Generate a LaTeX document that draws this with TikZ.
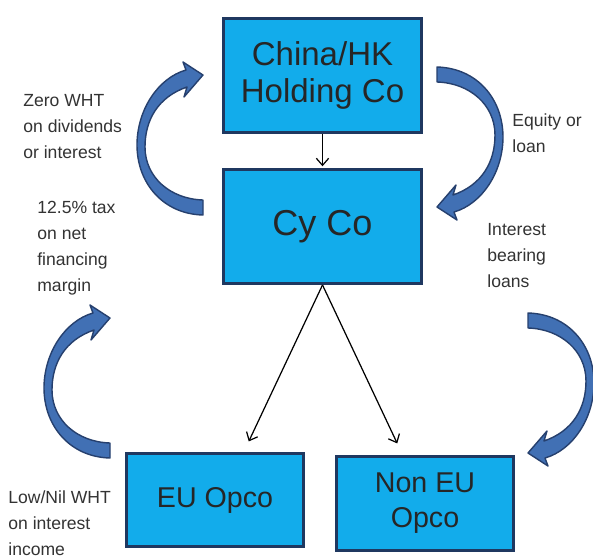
\documentclass[tikz,border=0pt]{standalone}
\usepackage{fontspec}
\setmainfont{Liberation Sans}
\usetikzlibrary{arrows.meta}

\definecolor{boxblue}{RGB}{18,172,235}
\definecolor{boxedge}{RGB}{31,56,96}
\definecolor{bendfill}{RGB}{65,112,180}
\definecolor{bendedge}{RGB}{38,64,110}

\begin{document}
\begin{tikzpicture}[
  x=0.02cm, y=-0.02cm,
  company/.style={draw=boxedge, fill=boxblue, line width=1.7pt, align=center, text=black!85, inner sep=0pt},
  link/.style={->, >={Straight Barb[length=4pt, width=7pt]}, line width=0.7pt, shorten >=1pt},
  note/.style={anchor=west, align=left, inner sep=0pt, text=black!80, font=\fontsize{10}{14.8}\selectfont},
  % block arrow bent like a C, tip at the origin, pointing right
  bend arrow/.pic={
    \filldraw[fill=bendfill, draw=bendedge, line width=0.8pt, line join=round]
      (0,0) -- (-20,-13) -- (-17,-5)
      .. controls (-45,3) and (-66,35) .. (-66,70)
      .. controls (-66,108) and (-40,139) .. (0,140)
      -- (0,125)
      .. controls (-33,124) and (-58,102) .. (-58,72)
      .. controls (-58,45) and (-45,22) .. (-16,12)
      -- (-19,22) -- cycle;
  }
]
  \useasboundingbox (0,0) rectangle (593,559);
  \fill[white] (0,0) rectangle (593,559);

  % the four companies
  \node[company, minimum width=3.96cm, minimum height=2.28cm, font=\fontsize{18.8}{21}\selectfont]
    (hold) at (322.5,75.5) {China/HK\\Holding Co};
  \node[company, minimum width=3.96cm, minimum height=2.28cm, font=\fontsize{20.5}{24}\selectfont]
    (cyco) at (322.5,226.5) {Cy Co};
  \node[company, minimum width=3.54cm, minimum height=1.86cm, font=\fontsize{16.3}{19.9}\selectfont]
    (euop) at (215,500) {EU Opco};
  \node[company, minimum width=3.54cm, minimum height=1.88cm, font=\fontsize{16.3}{19.9}\selectfont]
    (noneu) at (425,503.5) {Non EU\\Opco};

  % ownership lines
  \coordinate (eu in) at (248,443);
  \coordinate (noneu in) at (398,445);
  \draw[link] (hold.south) -- (cyco.north);
  \draw[link] (cyco.south) -- (eu in);
  \draw[link] (cyco.south) -- (noneu in);

  % money flows beside the boxes
  \pic at (203,75) {bend arrow};
  \pic[rotate=180] at (437,207) {bend arrow};
  \pic at (110,318) {bend arrow};
  \pic[rotate=180] at (528,453) {bend arrow};

  % notes
  \node[note] (zero wht) at (23,127) {Zero WHT\\on dividends\\or interest};
  \node[note] (equity) at (512,133) {Equity or\\loan};
  \node[note] (interest) at (487,256) {Interest\\bearing\\loans};
  \node[note] (margin) at (37,248) {12.5\% tax\\on net\\financing\\margin};
  \node[note] (low wht) at (8,523) {Low/Nil WHT\\on interest\\income};
\end{tikzpicture}
\end{document}
